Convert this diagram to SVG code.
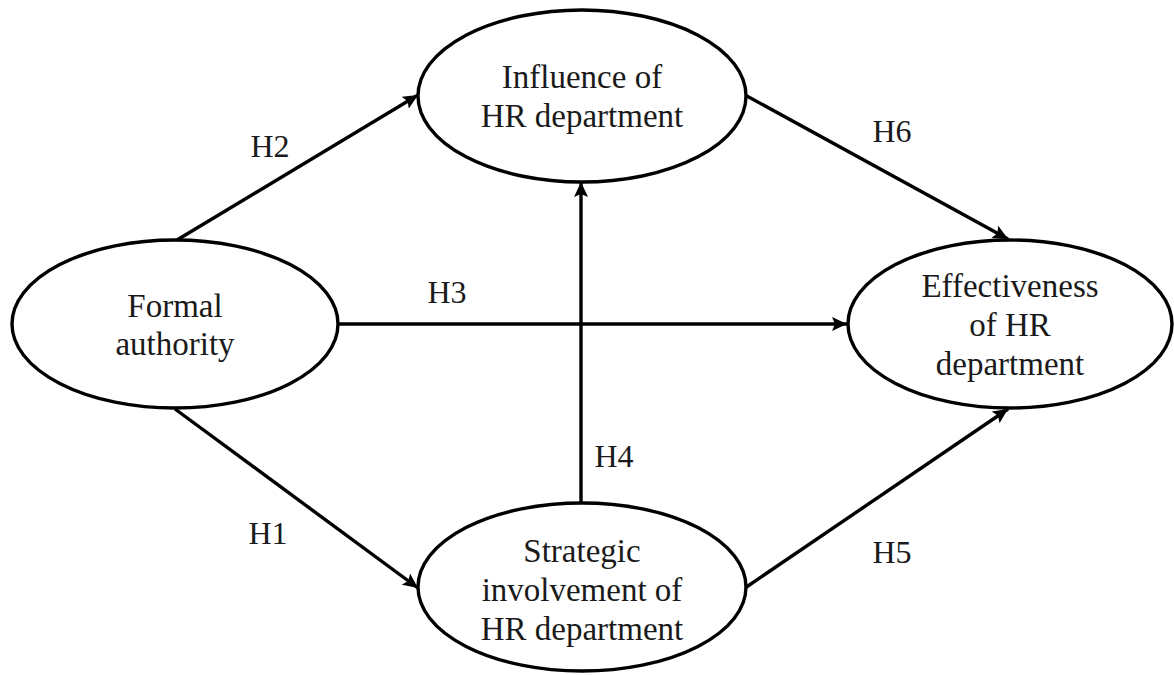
<svg xmlns="http://www.w3.org/2000/svg" width="1174" height="675" viewBox="0 0 1174 675">
<style>
.node ellipse{fill:#fff;stroke:#000;stroke-width:3.4}
.node text,.lbl{font-family:"Liberation Serif","Times New Roman",serif;font-size:33px;fill:#1a1a1a;text-anchor:middle}
.lbl{font-size:32px}
.edge{stroke:#000;stroke-width:3.4;fill:none;marker-end:url(#arr)}
</style>
<defs>
<marker id="arr" markerUnits="userSpaceOnUse" markerWidth="16" markerHeight="14" refX="15" refY="7" orient="auto">
<path d="M0,0 L15,7 L0,14 L3,7 Z" fill="#000"/>
</marker>
</defs>
<rect width="1174" height="675" fill="#fff"/>
<g id="connectors">
<line class="edge" x1="177" y1="240" x2="418" y2="95"/>
<line class="edge" x1="745" y1="95" x2="1008" y2="239"/>
<line class="edge" x1="338" y1="324" x2="847" y2="324"/>
<line class="edge" x1="581" y1="503" x2="581" y2="182"/>
<line class="edge" x1="175" y1="409" x2="418" y2="588"/>
<line class="edge" x1="745" y1="588" x2="1008" y2="409"/>
</g>
<g id="labels">
<text class="lbl" x="270" y="157">H2</text>
<text class="lbl" x="892" y="142">H6</text>
<text class="lbl" x="447" y="303">H3</text>
<text class="lbl" x="614" y="467">H4</text>
<text class="lbl" x="268" y="544">H1</text>
<text class="lbl" x="892" y="563">H5</text>
</g>
<g id="influence" class="node">
<ellipse cx="582" cy="96" rx="164" ry="86"/>
<text x="582" y="88">Influence of</text>
<text x="582" y="127">HR department</text>
</g>
<g id="formal" class="node">
<ellipse cx="175" cy="324" rx="163" ry="84"/>
<text x="175" y="317">Formal</text>
<text x="175" y="355">authority</text>
</g>
<g id="effectiveness" class="node">
<ellipse cx="1010" cy="324" rx="162" ry="84"/>
<text x="1010" y="297">Effectiveness</text>
<text x="1010" y="336">of HR</text>
<text x="1010" y="375">department</text>
</g>
<g id="strategic" class="node">
<ellipse cx="582" cy="587" rx="164" ry="84"/>
<text x="582" y="562">Strategic</text>
<text x="582" y="601">involvement of</text>
<text x="582" y="640">HR department</text>
</g>
</svg>
